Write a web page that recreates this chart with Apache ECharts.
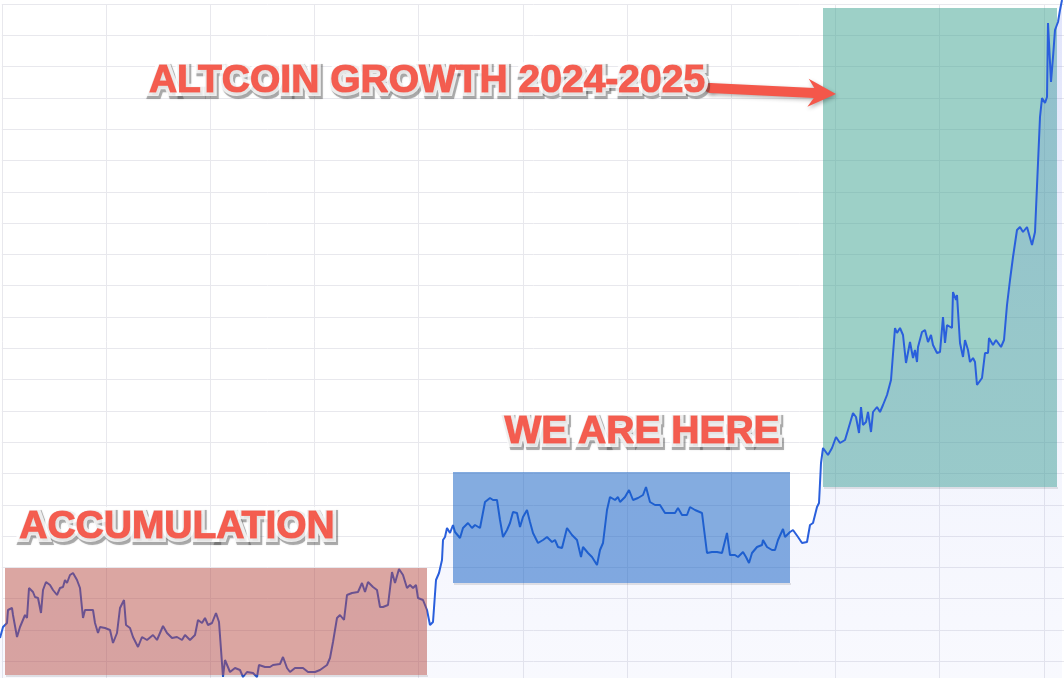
<!DOCTYPE html>
<html><head><meta charset="utf-8">
<script src="https://cdn.jsdelivr.net/npm/echarts@6/dist/echarts.min.js"></script>
<style>html,body{margin:0;padding:0;background:#fff}#c{width:1064px;height:678px}</style>
</head><body><div id="c"></div>
<script>
// Price path (x = time position, y = index level)
const xs = [0,3,7,8,12,13,17,20,25,27,29,33,35,38,41,43,46,50,53,57,60,63,65,67,70,73,77,80,83,85,90,93,95,98,100,105,110,113,117,120,124,126,130,133,138,142,147,153,157,163,167,172,177,182,185,190,195,198,202,205,208,212,216,219,223,
225,230,235,240,243,247,253,257,259,265,270,273,280,283,287,290,295,303,308,315,320,327,330,333,337,340,344,347,
352,358,362,365,368,373,377,380,383,388,392,395,399,403,407,410,413,416,418,423,427,430,433,436,439,442,443,445,447,450,453,455,460,463,468,472,475,480,485,490,493,497,500,503,507,510,513,517,520,523,527,530,533,538,543,547,552,555,558,562,567,572,577,581,583,588,592,597,600,603,607,610,615,618,620,625,629,633,638,643,646,650,655,660,665,670,675,678,682,687,690,695,702,705,707,712,717,722,724,727,730,735,738,743,746,749,752,757,762,763,767,772,775,778,783,785,790,793,798,802,807,810,813,817,819,821,823,828,832,836,840,845,848,853,856,859,861,863,866,868,871,873,877,880,883,887,891,895,897,900,903,906,910,913,915,917,918,922,925,928,931,933,937,940,943,945,947,952,953,956,957,960,963,965,968,970,973,975,977,982,985,988,989,993,996,1001,1004,1007,1010,1013,1015,1017,1020,1023,1027,1032,1035,1040,1042,1045,1047,1048,1051,1053,1055,1058,1060,1062];
const ys = [40,51,55,68,70,63,41,51,63,60,90,86,81,80,65,88,96,93,88,83,90,91,98,95,103,105,98,90,60,68,68,68,55,45,51,50,48,35,45,70,78,53,50,41,31,41,38,43,38,52,45,40,41,38,43,38,43,58,55,60,53,55,65,56,1,
18,6,10,8,1,6,5,1,13,11,11,13,14,21,10,6,10,10,6,6,8,13,20,36,60,63,58,83,
85,86,95,86,96,91,88,71,71,73,106,95,109,103,90,93,90,93,80,78,68,53,56,98,105,118,138,141,150,145,153,146,140,150,155,150,153,150,176,180,178,178,158,141,148,155,166,165,151,161,168,156,145,135,138,141,136,138,131,130,150,143,138,121,131,125,121,113,128,135,168,181,178,181,176,181,188,178,180,183,191,176,173,173,165,165,165,170,163,163,171,168,165,141,125,126,126,125,133,145,123,123,121,126,121,115,125,131,133,138,131,128,128,138,149,141,146,148,141,135,136,153,155,171,175,215,230,223,230,241,235,238,248,265,261,245,271,253,256,266,246,266,271,266,273,283,298,350,345,350,343,315,336,320,328,316,331,346,348,336,343,333,325,326,361,335,353,350,386,378,383,335,321,338,328,316,320,316,293,300,325,325,340,333,338,331,338,373,398,421,423,448,451,446,451,433,446,561,580,575,581,655,596,621,648,656,668,678];

// Highlight zones
const boxX0 = [5, 453, 823];
const boxX1 = [427, 790, 1057];
const boxYTop = [110, 206, 670];
const boxYBottom = [3, 95, 191];
const boxColors = ['rgba(179,69,61,0.48)', 'rgba(20,95,195,0.52)', 'rgba(68,164,148,0.52)'];
const boxOnTop = [true, true, false];

// Annotations
const noteTexts = ['ALTCOIN GROWTH 2024-2025', 'WE ARE HERE', 'ACCUMULATION'];
const noteX = [427, 642, 177];
const noteY = [597, 246, 151];
const arrowFrom = [710, 590];
const arrowTo = [836, 584];

const lineColor = '#2a5fdc';
const noteColor = '#f4574a';

const chart = echarts.init(document.getElementById('c'), null, {renderer: 'canvas'});
const lineData = xs.map((x, i) => [x, ys[i]]);

function boxItems(onTop) {
  const out = [];
  for (let i = 0; i < boxX0.length; i++) {
    if (boxOnTop[i] === onTop) out.push([boxX0[i], boxX1[i], boxYTop[i], boxYBottom[i], i]);
  }
  return out;
}
function renderBox(params, api) {
  const p0 = api.coord([api.value(0), api.value(2)]);
  const p1 = api.coord([api.value(1), api.value(3)]);
  const i = api.value(4);
  const w = p1[0] - p0[0], h = p1[1] - p0[1];
  return {
    type: 'group',
    children: [
      {type: 'rect', shape: {x: p0[0] + 1, y: p0[1] + h, width: w, height: 2},
       style: {fill: 'rgba(0,0,0,0.10)'}},
      {type: 'rect', shape: {x: p0[0], y: p0[1], width: w, height: h},
       style: {fill: boxColors[i]}}
    ]
  };
}
function renderArrow(params, api) {
  const a = api.coord([api.value(0), api.value(1)]);
  const b = api.coord([api.value(2), api.value(3)]);
  const dx = b[0] - a[0], dy = b[1] - a[1];
  const len = Math.sqrt(dx * dx + dy * dy);
  const ux = dx / len, uy = dy / len, nx = -uy, ny = ux;
  const w = 5, hl = 28, hw = 14, notch = 6;
  const P = (base, along, side) => [base[0] + ux * along + nx * side, base[1] + uy * along + ny * side];
  const pts = [P(a, 0, w), P(b, -(hl - notch), w), P(b, -hl, hw), b.slice(), P(b, -hl, -hw), P(b, -(hl - notch), -w), P(a, 0, -w)];
  const sh = {shadowBlur: 4, shadowOffsetX: 1, shadowOffsetY: 2, shadowColor: 'rgba(0,0,0,0.3)'};
  return {
    type: 'group',
    children: [
      {type: 'circle', shape: {cx: a[0], cy: a[1], r: w}, style: Object.assign({fill: noteColor}, sh)},
      {type: 'polygon', shape: {points: pts}, style: Object.assign({fill: noteColor}, sh)}
    ]
  };
}

const noteFont = {fontFamily: '"Liberation Sans", Arial, sans-serif', fontWeight: 'bold', fontSize: 39};
const noteData = noteTexts.map((t, i) => ({value: [noteX[i], noteY[i]], label: {formatter: t}}));
function noteLayer(z, label) {
  return {type: 'scatter', xAxisIndex: 0, yAxisIndex: 0, z: z, silent: true, symbolSize: 0,
    data: noteData, label: Object.assign({show: true, position: 'inside'}, noteFont, label)};
}

chart.setOption({
  animation: false,
  backgroundColor: '#ffffff',
  grid: [
    {left: 0, right: 0, top: 0, bottom: 0, outerBoundsMode: 'none'},
    {left: 1.8, top: 4, width: 1146.2, height: 688.6, outerBoundsMode: 'none'}
  ],
  xAxis: [
    {type: 'value', gridIndex: 0, min: 0, max: 1064, show: false},
    {type: 'value', gridIndex: 1, min: 0, max: 1146.2, interval: 104.2,
     axisLine: {show: false}, axisTick: {show: false}, axisLabel: {show: false},
     splitLine: {show: true, lineStyle: {color: '#e8e8ed', width: 1}}}
  ],
  yAxis: [
    {type: 'value', gridIndex: 0, min: 0, max: 678, show: false},
    {type: 'value', gridIndex: 1, min: 0, max: 688.6, interval: 31.3,
     axisLine: {show: false}, axisTick: {show: false}, axisLabel: {show: false},
     splitLine: {show: true, lineStyle: {color: '#e8e8ed', width: 1}}}
  ],
  series: [
    {type: 'custom', name: 'zonesUnder', xAxisIndex: 0, yAxisIndex: 0, z: 1, silent: true,
     renderItem: renderBox, data: boxItems(false)},
    {type: 'line', name: 'Altcoins', xAxisIndex: 0, yAxisIndex: 0, z: 2, silent: true,
     data: lineData, showSymbol: false, symbol: 'none',
     lineStyle: {color: lineColor, width: 2},
     areaStyle: {color: new echarts.graphic.LinearGradient(0, 0, 0, 1, [
       {offset: 0, color: 'rgba(90,110,235,0.26)'},
       {offset: 0.5, color: 'rgba(90,110,235,0.12)'},
       {offset: 1, color: 'rgba(90,110,235,0.06)'}
     ])}},
    {type: 'custom', name: 'zonesOver', xAxisIndex: 0, yAxisIndex: 0, z: 4, silent: true,
     renderItem: renderBox, data: boxItems(true)},
    {type: 'custom', name: 'arrow', xAxisIndex: 0, yAxisIndex: 0, z: 5, silent: true,
     renderItem: renderArrow, data: [[arrowFrom[0], arrowFrom[1], arrowTo[0], arrowTo[1]]]},
    noteLayer(6, {offset: [2, 3], color: 'rgba(60,60,60,0.45)', textBorderColor: 'rgba(60,60,60,0.45)', textBorderWidth: 8,
      textShadowColor: 'rgba(0,0,0,0.3)', textShadowBlur: 2}),
    noteLayer(7, {color: noteColor, textBorderColor: '#ffffff', textBorderWidth: 8}),
    noteLayer(8, {color: noteColor, textBorderColor: noteColor, textBorderWidth: 1.2})
  ]
});
</script>
</body></html>
